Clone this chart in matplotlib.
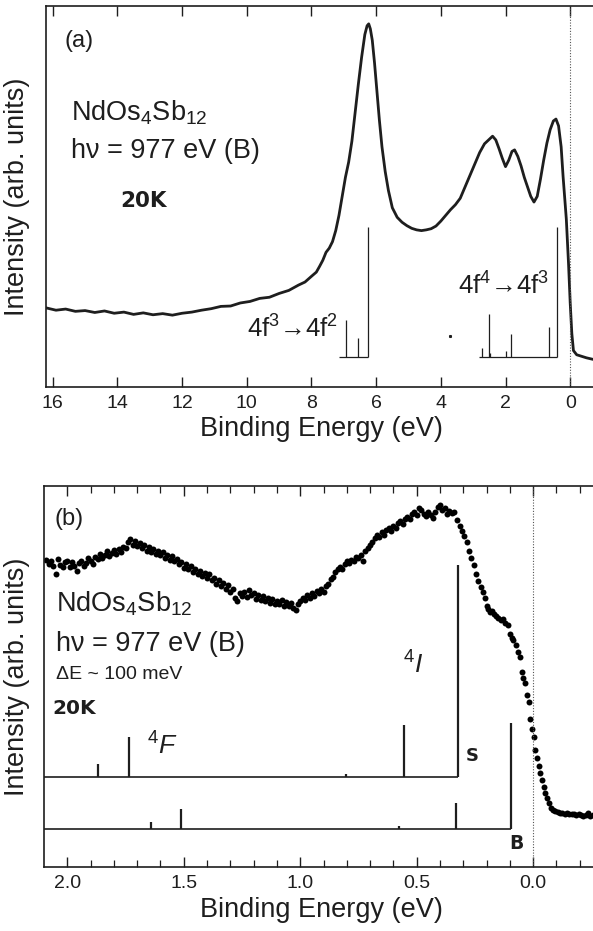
import matplotlib
matplotlib.use("Agg")
import matplotlib.pyplot as plt
from matplotlib.ticker import MultipleLocator, FormatStrFormatter

plt.rcParams['font.family'] = ['Liberation Sans', 'DejaVu Sans']
plt.rcParams['mathtext.fontset'] = 'custom'
plt.rcParams['mathtext.rm'] = 'Liberation Sans'
plt.rcParams['mathtext.it'] = 'Liberation Sans:italic'
plt.rcParams['mathtext.bf'] = 'Liberation Sans:bold'

INK = '#1e1e1e'

# ---- panel (a): wide valence band spectrum ----
energy_a = [16.2, 15.9, 15.6, 15.3, 15.0, 14.7, 14.4, 14.1, 13.8, 13.5, 13.2, 12.9,
            12.6, 12.3, 12.0, 11.7, 11.4, 11.1, 10.8, 10.5, 10.2, 9.9, 9.6, 9.3,
            9.0, 8.7, 8.4, 8.2, 8.0, 7.85, 7.75, 7.65, 7.55, 7.45, 7.35, 7.25,
            7.15, 7.05, 6.95, 6.85, 6.75, 6.65, 6.55, 6.45, 6.35, 6.28, 6.23, 6.18,
            6.12, 6.05, 5.98, 5.90, 5.82, 5.72, 5.62, 5.50, 5.35, 5.20, 5.05, 4.90,
            4.75, 4.60, 4.45, 4.30, 4.15, 4.00, 3.85, 3.70, 3.55, 3.40, 3.25, 3.10,
            2.95, 2.80, 2.65, 2.50, 2.40, 2.30, 2.20, 2.10, 2.00, 1.90, 1.80, 1.72,
            1.62, 1.52, 1.42, 1.32, 1.22, 1.12, 1.02, 0.92, 0.82, 0.72, 0.62, 0.52,
            0.44, 0.36, 0.28, 0.22, 0.12, 0.05, 0.0, -0.05, -0.10, -0.20, -0.35,
            -0.50, -0.70, -0.95]
intensity_a = [20.7, 20.1, 20.4, 19.8, 20.0, 19.5, 19.9, 19.3, 19.6, 19.0, 19.4, 18.9,
               19.2, 18.8, 19.3, 19.6, 20.1, 20.5, 21.1, 21.2, 22.0, 22.4, 23.2, 23.5,
               24.5, 25.3, 26.7, 27.5, 29.0, 30.1, 31.6, 33.2, 35.3, 36.4, 38.1, 41.0,
               45.0, 50.0, 55.0, 59.0, 64.5, 72.0, 79.5, 86.5, 92.5, 94.8, 95.3, 94.0,
               91.0, 85.0, 78.0, 70.0, 63.0, 56.5, 51.5, 47.0, 44.5, 43.2, 42.3, 41.6,
               41.2, 41.0, 41.2, 41.5, 42.2, 43.5, 45.0, 46.5, 47.8, 49.5, 52.5, 55.5,
               58.5, 61.5, 63.8, 65.0, 65.8, 64.8, 62.5, 60.0, 57.8, 59.5, 61.8, 62.2,
               60.5, 58.0, 55.0, 52.5, 50.0, 48.5, 50.0, 54.5, 59.5, 64.0, 67.5, 69.8,
               70.3, 68.5, 63.0, 55.2, 44.0, 32.0, 22.0, 14.0, 9.5, 8.4, 8.0,
               7.6, 7.2, 7.0]

# calculated multiplet lines, panel (a)
f3_lines_e = [6.94, 6.56, 6.25]
f3_lines_top = [17.5, 12.7, 41.9]
f3_base_range = (7.14, 6.25)
f4_lines_e = [2.74, 2.52, 2.48, 1.97, 1.82, 0.89, 0.65, 0.40]
f4_lines_top = [10.1, 19.0, 8.8, 9.5, 13.8, 7.9, 15.8, 41.9]
f4_base_range = (2.81, 0.40)
lines_base_a = 7.7

# ---- panel (b): near-E_F spectrum (dots) ----
energy_b = [2.09, 2.08, 2.07, 2.06, 2.05, 2.04, 2.03, 2.02, 2.01, 2.00,
            1.99, 1.98, 1.97, 1.96, 1.95, 1.94, 1.93, 1.92, 1.91, 1.90,
            1.89, 1.88, 1.87, 1.86, 1.85, 1.84, 1.83, 1.82, 1.81, 1.80,
            1.79, 1.78, 1.77, 1.76, 1.75, 1.74, 1.73, 1.72, 1.71, 1.70,
            1.69, 1.68, 1.67, 1.66, 1.65, 1.64, 1.63, 1.62, 1.61, 1.60,
            1.59, 1.58, 1.57, 1.56, 1.55, 1.54, 1.53, 1.52, 1.51, 1.50,
            1.49, 1.48, 1.47, 1.46, 1.45, 1.44, 1.43, 1.42, 1.41, 1.40,
            1.39, 1.38, 1.37, 1.36, 1.35, 1.34, 1.33, 1.32, 1.31, 1.30,
            1.29, 1.28, 1.27, 1.26, 1.25, 1.24, 1.23, 1.22, 1.21, 1.20,
            1.19, 1.18, 1.17, 1.16, 1.15, 1.14, 1.13, 1.12, 1.11, 1.10,
            1.09, 1.08, 1.07, 1.06, 1.05, 1.04, 1.03, 1.02, 1.01, 1.00,
            0.99, 0.98, 0.97, 0.96, 0.95, 0.94, 0.93, 0.92, 0.91, 0.90,
            0.89, 0.88, 0.87, 0.86, 0.85, 0.84, 0.83, 0.82, 0.81, 0.80,
            0.79, 0.78, 0.77, 0.76, 0.75, 0.74, 0.73, 0.72, 0.71, 0.70,
            0.69, 0.68, 0.67, 0.66, 0.65, 0.64, 0.63, 0.62, 0.61, 0.60,
            0.59, 0.58, 0.57, 0.56, 0.55, 0.54, 0.53, 0.52, 0.51, 0.50,
            0.49, 0.48, 0.47, 0.46, 0.45, 0.44, 0.43, 0.42, 0.41, 0.40,
            0.39, 0.38, 0.37, 0.36, 0.35, 0.34,
            0.325, 0.315, 0.305, 0.295, 0.285, 0.275, 0.265, 0.255, 0.245, 0.235,
            0.225, 0.215, 0.207, 0.200, 0.192, 0.185, 0.178, 0.170, 0.160, 0.150,
            0.140, 0.130, 0.120, 0.110, 0.100, 0.093, 0.085, 0.075, 0.066, 0.058,
            0.050, 0.043, 0.036, 0.028, 0.020, 0.012, 0.005, -0.002, -0.009, -0.017,
            -0.024, -0.031, -0.038, -0.045, -0.052, -0.060, -0.068, -0.076, -0.085,
            -0.095, -0.105, -0.115, -0.125, -0.135, -0.145, -0.155, -0.165, -0.175,
            -0.185, -0.195, -0.205, -0.215, -0.225, -0.235, -0.245, -0.255, -0.265,
            -0.275, -0.285]
intensity_b = [80.6, 79.5, 80.3, 78.9, 76.9, 80.8, 79.2, 78.8, 80.0, 80.3,
               78.7, 80.1, 79.0, 77.6, 79.8, 80.4, 78.9, 79.7, 81.0, 80.2,
               79.6, 81.3, 80.8, 82.2, 81.1, 82.0, 82.9, 81.6, 82.5, 83.3,
               82.1, 83.4, 82.8, 84.0, 83.6, 85.3, 86.0, 84.6, 85.6, 84.2,
               85.1, 83.6, 84.6, 83.0, 84.0, 82.7, 83.5, 82.1, 83.0, 81.8,
               82.6, 81.2, 81.9, 80.6, 81.5, 80.2, 80.9, 79.4, 80.1, 78.6,
               79.5, 78.2, 78.9, 77.4, 78.3, 76.9, 77.8, 76.4, 77.1, 75.8,
               76.8, 75.2, 75.9, 74.3, 75.3, 73.8, 74.6, 73.0, 73.9, 72.3,
               72.9, 70.6, 69.8, 71.9, 71.0, 72.2, 70.8, 72.6, 71.4, 72.0,
               70.4, 71.5, 70.1, 71.2, 69.9, 70.7, 69.3, 70.3, 68.9, 69.8,
               69.1, 70.0, 68.6, 69.5, 68.4, 69.3, 68.0, 67.4, 68.9, 69.8,
               70.7, 70.1, 71.3, 70.6, 71.8, 71.2, 72.5, 71.9, 72.9, 72.3,
               73.8, 74.4, 75.6, 76.1, 77.4, 78.1, 78.8, 78.2, 79.6, 80.3,
               79.8, 80.7, 80.2, 81.4, 81.0, 82.0, 80.4, 83.0, 83.8, 84.5,
               85.2, 86.3, 87.1, 86.6, 87.8, 87.2, 88.4, 88.9, 88.3, 89.5,
               89.0, 90.3, 90.7, 90.1, 91.4, 91.9, 91.3, 92.6, 93.1, 92.5,
               94.2, 93.6, 92.7, 92.0, 93.2, 92.4, 91.6, 93.3, 94.4, 94.9,
               93.7, 94.1, 92.6, 93.5, 92.9, 93.3,
               91.2, 89.5, 88.2, 87.0, 85.2, 83.0, 81.0, 79.2, 77.0, 75.1,
               73.4, 72.2, 70.6, 68.5, 67.8, 66.9, 67.3, 66.4, 65.9, 65.4,
               64.8, 65.2, 64.0, 63.4, 61.2, 60.0, 59.6, 58.2, 56.4, 55.0,
               51.2, 49.6, 48.2, 45.2, 43.2, 38.8, 36.3, 34.0, 30.8, 28.6,
               26.6, 24.8, 22.9, 21.0, 19.5, 18.0, 16.8, 15.6, 15.0,
               14.6, 14.4, 14.3, 14.2, 14.0, 14.1, 13.9, 13.8, 13.9,
               13.7, 14.0, 13.6, 13.5, 13.7, 14.3, 13.5, 13.6, 13.4,
               13.5, 13.3]

# calculated lines for surface (S) and bulk (B)
s_lines_e = [1.867, 1.737, 0.804, 0.555, 0.321]
s_lines_top = [27.1, 34.1, 24.5, 37.2, 79.3]
s_base = 23.6
b_lines_e = [1.640, 1.510, 0.576, 0.330, 0.097]
b_lines_top = [11.8, 15.2, 10.7, 16.8, 37.8]
b_base = 10.0

fig = plt.figure(figsize=(5.93, 9.31), dpi=100)
ax1 = fig.add_axes([0.0771, 0.5846, 0.939, 0.4090])
ax2 = fig.add_axes([0.0750, 0.0687, 0.942, 0.4093])

# panel (a)
ax1.plot(energy_a, intensity_a, color=INK, lw=2.0)
ax1.vlines(f3_lines_e, lines_base_a, f3_lines_top, color=INK, lw=0.9)
ax1.hlines(lines_base_a, *f3_base_range, color=INK, lw=0.9)
ax1.vlines(f4_lines_e, lines_base_a, f4_lines_top, color=INK, lw=0.9)
ax1.hlines(lines_base_a, *f4_base_range, color=INK, lw=0.9)
ax1.plot([3.72], [13.4], 's', ms=1.2, color=INK)
ax1.axvline(0, color='#555555', lw=0.8, ls=(0, (1, 1.5)))
ax1.set_xlim(16.217, -1.0)
ax1.set_ylim(0, 100)
ax1.xaxis.set_major_locator(MultipleLocator(2))

ax1.text(15.63, 90.8, '(a)', fontsize=17, va='center', color=INK)
ax1.text(15.45, 70.05, r'NdOs$_4$Sb$_{12}$', fontsize=19.5, va='baseline', color=INK)
ax1.text(15.45, 60.0, 'hν = 977 eV (B)', fontsize=19.5, va='baseline', color=INK)
ax1.text(13.91, 47.3, '20K', fontsize=15.5, va='baseline', color=INK,
         family='DejaVu Sans', weight='bold')
ax1.text(7.19, 12.8, r'4f$^3$→4f$^2$', fontsize=18.5, va='baseline', ha='right', color=INK)
ax1.text(3.48, 24.1, r'4f$^4$→4f$^3$', fontsize=18.5, va='baseline', color=INK)

# panel (b)
ax2.plot(energy_b, intensity_b, 'o', ms=4.3, color='black', mec='none')
ax2.vlines(s_lines_e, s_base, s_lines_top, color=INK, lw=1.6)
ax2.hlines(s_base, 2.2, s_lines_e[-1], color=INK, lw=1.2)
ax2.vlines(b_lines_e, b_base, b_lines_top, color=INK, lw=1.6)
ax2.hlines(b_base, 2.2, b_lines_e[-1], color=INK, lw=1.2)
ax2.axvline(0, color='#555555', lw=0.8, ls=(0, (1, 1.5)))
ax2.set_xlim(2.098, -0.30)
ax2.set_ylim(0, 100)
ax2.xaxis.set_major_locator(MultipleLocator(0.5))
ax2.xaxis.set_minor_locator(MultipleLocator(0.1))
ax2.xaxis.set_major_formatter(FormatStrFormatter('%.1f'))

ax2.text(2.054, 91.3, '(b)', fontsize=17, va='center', color=INK)
ax2.text(2.049, 67.0, r'NdOs$_4$Sb$_{12}$', fontsize=19.5, va='baseline', color=INK)
ax2.text(2.049, 56.8, 'hν = 977 eV (B)', fontsize=19.5, va='baseline', color=INK)
ax2.text(2.049, 49.3, 'ΔE ~ 100 meV', fontsize=14, va='baseline', color=INK)
ax2.text(2.063, 40.2, '20K', fontsize=14.5, va='baseline', color=INK,
         family='DejaVu Sans', weight='bold')
ax2.text(0.56, 50.8, r'$^4\mathit{I}$', fontsize=19, va='baseline', color=INK)
ax2.text(1.656, 29.4, r'$^4\mathit{F}$', fontsize=19, va='baseline', color=INK)
ax2.text(0.263, 29.1, 'S', fontsize=13, va='center', ha='center', color=INK,
         family='DejaVu Sans', weight='bold')
ax2.text(0.073, 6.3, 'B', fontsize=13.5, va='center', ha='center', color=INK,
         family='DejaVu Sans', weight='bold')

for ax in (ax1, ax2):
    for sp in ax.spines.values():
        sp.set_linewidth(1.2)
        sp.set_color(INK)
    ax.set_yticks([])
    ax.tick_params(axis='x', which='major', direction='in', top=True, bottom=True,
                   length=7.5, width=1.0, labelsize=14, pad=6, colors=INK)
    ax.tick_params(axis='x', which='minor', direction='in', top=True, bottom=True,
                   length=5, width=0.9, colors=INK)
    ax.set_xlabel('Binding Energy (eV)', fontsize=19.5, color=INK)
    ax.set_ylabel('Intensity (arb. units)', fontsize=19.5, color=INK)

ax1.xaxis.set_label_coords(0.495, -0.077)
ax2.xaxis.set_label_coords(0.4955, -0.078)
ax1.yaxis.set_label_coords(-0.028, 0.5)
ax2.yaxis.set_label_coords(-0.026, 0.5)

fig.savefig('out.png', dpi=100)
